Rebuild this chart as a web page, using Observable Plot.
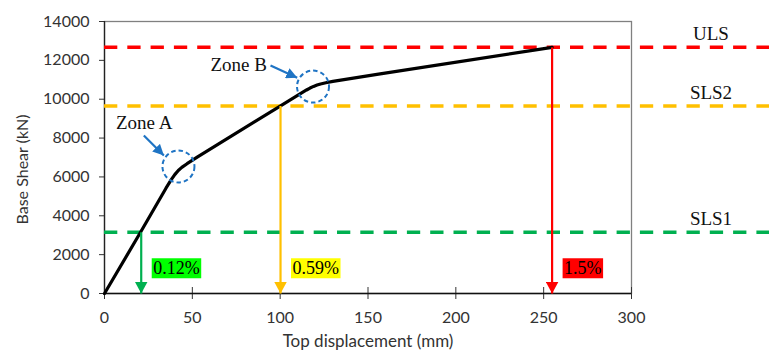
<!DOCTYPE html>
<html><head><meta charset="utf-8">
<script src="https://cdn.jsdelivr.net/npm/d3@7"></script>
<script src="https://cdn.jsdelivr.net/npm/@observablehq/plot@0.6"></script>
<style>body{margin:0;background:#fff} #chart svg{display:block}</style>
</head><body><div id="chart"></div>
<script>
// Pushover curve (top displacement mm, base shear kN)
const dispMM  = [0, 20.5, 35, 38, 40, 42, 44, 47, 53, 100, 112, 115, 117, 119, 121, 123, 126, 130, 156, 254.8];
const shearKN = [0, 3150, 5420, 5860, 6120, 6330, 6490, 6680, 7030, 9650, 10316, 10475, 10575, 10660, 10730, 10785, 10845, 10915, 11290, 12670];

// Limit-state lines
const limitNames  = ["ULS", "SLS2", "SLS1"];
const limitValues = [12670, 9650, 3150];
const limitColors = ["#FF0000", "#FFC000", "#00B050"];

// Drift arrows
const driftLabels = ["0.12%", "0.59%", "1.5%"];
const driftDisp   = [20.9, 100.2, 254.8];
const driftShear  = [3150, 9650, 12670];
const driftColors = ["#00B050", "#FFC000", "#FF0000"];
const driftBg     = ["#00FF00", "#FFFF00", "#FF0000"];

// Zone annotations
const zoneNames      = ["Zone A", "Zone B"];
const zoneDisp       = [42.1, 118.7];
const zoneShear      = [6537, 10650];
const zoneLabelDisp  = [22.6, 76.4];
const zoneLabelShear = [8800, 11790];
const zoneArrowX1 = [22.4, 94.5];
const zoneArrowY1 = [8132, 11735];
const zoneArrowX2 = [33.8, 109.7];
const zoneArrowY2 = [7103, 11102];
const zoneColor = "#1F74C4";

const xTicks = [0, 50, 100, 150, 200, 250, 300];
const yTicks = [0, 2000, 4000, 6000, 8000, 10000, 12000, 14000];
const xTitle = "Top displacement (mm)";
const yTitle = "Base Shear (kN)";

const curve = dispMM.map((d, i) => ({d, v: shearKN[i]}));
const limits = limitNames.map((name, i) => ({name, value: limitValues[i], color: limitColors[i]}));
const drifts = driftLabels.map((label, i) => ({label, x: driftDisp[i], y: driftShear[i], color: driftColors[i], bg: driftBg[i]}));
const zones = zoneNames.map((name, i) => ({
  name, x: zoneDisp[i], y: zoneShear[i], lx: zoneLabelDisp[i], ly: zoneLabelShear[i],
  x1: zoneArrowX1[i], y1: zoneArrowY1[i], x2: zoneArrowX2[i], y2: zoneArrowY2[i]
}));

const serif = "'Liberation Serif', 'Times New Roman', serif";

const chart = Plot.plot({
  width: 769, height: 350,
  marginLeft: 104, marginRight: 138, marginTop: 21, marginBottom: 57,
  x: {domain: [0, 300]},
  y: {domain: [0, 14000]},
  style: {fontFamily: "Lato, sans-serif", fontSize: "16px", color: "#333", background: "#fff"},
  marks: [
    Plot.frame({stroke: "#808080", strokeWidth: 1.3}),
    Plot.axisY(yTicks, {tickSize: 5, tickPadding: 10, tickFormat: d3.format("d"), label: null, stroke: "#333", fontSize: 16}),
    Plot.axisX(xTicks, {tickSize: 6, tickPadding: 12, tickFormat: d3.format("d"), label: null, stroke: "#333", fontSize: 16}),
    Plot.tickX(xTicks, {x: d => d, insetTop: 266, stroke: "#333"}),
    Plot.ruleY([0], {stroke: "#111", strokeWidth: 1.3}),
    Plot.ruleX([0], {stroke: "#222", strokeWidth: 1.3}),
    Plot.ruleY(limits, {y: "value", stroke: "color", strokeWidth: 3.5, strokeDasharray: "13.3,10", insetRight: -138}),
    Plot.text(limits, {y: "value", text: "name", frameAnchor: "right", textAnchor: "middle", dx: 79.5, dy: -13.5,
      fontFamily: serif, fontSize: 19, fill: "#111"}),
    Plot.line(curve, {x: "d", y: "v", stroke: "black", strokeWidth: 3.2, curve: "linear", strokeLinejoin: "round"}),
    Plot.link(drifts, {x1: "x", x2: "x", y1: "y", y2: () => 0, stroke: "color", strokeWidth: 2.2, className: "varrow"}),
    Plot.text(drifts, {x: "x", y: () => 0, text: "label", dx: 12, dy: -25, textAnchor: "start",
      fontFamily: serif, fontSize: 18, fill: "#000", className: "pct"}),
    Plot.dot(zones, {x: "x", y: "y", r: 16, stroke: zoneColor, strokeWidth: 2, strokeDasharray: "4.5,3", fill: "none"}),
    Plot.link(zones, {x1: "x1", y1: "y1", x2: "x2", y2: "y2", stroke: zoneColor, strokeWidth: 2.2, className: "zarrow"}),
    Plot.text(zones, {x: "lx", y: "ly", text: "name", fontFamily: serif, fontSize: 19, fill: "#111"}),
    Plot.text([yTitle], {text: d => d, frameAnchor: "left", textAnchor: "middle", rotate: -90, dx: -82, dy: 12, fontSize: 16, fill: "#333"}),
    Plot.text([xTitle], {text: d => d, frameAnchor: "bottom", textAnchor: "middle", dy: 53.5, fontSize: 17, fill: "#333"})
  ]
});

document.getElementById("chart").appendChild(chart);

// post-process: filled arrowheads and label backgrounds
const svg = chart.tagName.toLowerCase() === "svg" ? chart : chart.querySelector("svg");
const defs = d3.select(svg).insert("defs", ":first-child");
let mk = 0;
function marker(color, len, wid) {
  const id = "mk" + (mk++);
  defs.append("marker").attr("id", id)
    .attr("viewBox", `0 0 ${len} ${wid}`).attr("refX", len).attr("refY", wid / 2)
    .attr("markerWidth", len).attr("markerHeight", wid)
    .attr("markerUnits", "userSpaceOnUse").attr("orient", "auto")
    .append("path").attr("d", `M0,0L${len},${wid / 2}L0,${wid}Z`).attr("fill", color);
  return `url(#${id})`;
}
svg.querySelectorAll("g.varrow path, g.varrow line").forEach(p => {
  const c = p.getAttribute("stroke") || p.parentNode.getAttribute("stroke");
  p.setAttribute("marker-end", marker(c, 12, 13));
});
svg.querySelectorAll("g.zarrow path, g.zarrow line").forEach(p => {
  p.setAttribute("marker-end", marker(zoneColor, 11, 11));
});
svg.querySelectorAll("g.pct text").forEach((t, i) => {
  const b = t.getBBox();
  const r = document.createElementNS("http://www.w3.org/2000/svg", "rect");
  r.setAttribute("x", b.x - 1.5);
  r.setAttribute("y", b.y);
  r.setAttribute("width", b.width + 3);
  r.setAttribute("height", b.height);
  r.setAttribute("fill", drifts[i].bg);
  const tr = t.getAttribute("transform");
  if (tr) r.setAttribute("transform", tr);
  t.parentNode.insertBefore(r, t);
});
</script>
</body></html>
